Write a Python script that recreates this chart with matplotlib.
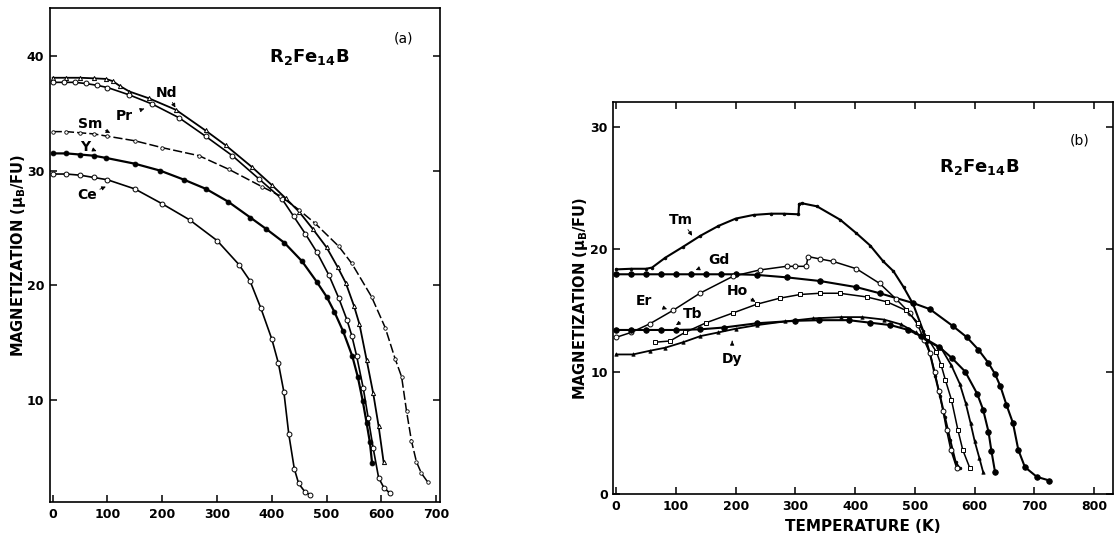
import matplotlib
matplotlib.use("Agg")
import matplotlib.pyplot as plt

# ---------------------------------------------------------------------------
# (a) light rare earths: temperature (K) vs magnetization (muB/FU)
# ---------------------------------------------------------------------------
nd_T = [0, 25, 50, 75, 97, 110, 122, 140, 176, 225, 279, 316, 364, 401, 425,
        450, 475, 500, 520, 535, 550, 560, 573, 585, 595, 604]
nd_M = [38.1, 38.1, 38.1, 38.05, 38.0, 37.8, 37.4, 36.9, 36.3, 35.3, 33.5, 32.2,
        30.3, 28.7, 27.6, 26.4, 24.9, 23.3, 21.6, 20.2, 18.2, 16.6, 13.5, 10.6,
        7.7, 4.6]

pr_T = [0, 20, 40, 60, 80, 100, 140, 182, 231, 279, 328, 376, 419, 440, 461,
        482, 504, 522, 537, 546, 555, 567, 576, 585, 595, 605, 616]
pr_M = [37.7, 37.7, 37.7, 37.6, 37.45, 37.25, 36.6, 35.8, 34.6, 33.0, 31.3,
        29.3, 27.5, 26.0, 24.5, 22.9, 20.9, 18.9, 17.0, 15.6, 13.8, 11.0, 8.4,
        5.8, 3.2, 2.3, 1.85]

sm_T = [0, 25, 50, 75, 100, 150, 200, 267, 322, 382, 415, 449, 479, 522, 546,
        582, 607, 625, 637, 646, 655, 664, 673, 685]
sm_M = [33.4, 33.4, 33.3, 33.2, 33.0, 32.6, 32.0, 31.3, 30.1, 28.6, 27.8, 26.6,
        25.4, 23.4, 21.9, 19.0, 16.3, 13.6, 12.0, 9.0, 6.4, 4.6, 3.6, 2.8]

y_T = [0, 25, 50, 75, 98, 150, 196, 240, 280, 320, 361, 390, 423, 455, 482,
       500, 514, 530, 547, 557, 566, 573, 579, 583]
y_M = [31.5, 31.5, 31.4, 31.3, 31.1, 30.6, 30.0, 29.2, 28.4, 27.3, 25.9, 24.9,
       23.7, 22.1, 20.3, 19.0, 17.7, 16.0, 13.8, 12.0, 9.9, 8.0, 6.3, 4.5]

ce_T = [0, 25, 50, 75, 100, 150, 200, 250, 300, 340, 360, 380, 400, 412, 422,
        431, 441, 449, 460, 470]
ce_M = [29.7, 29.7, 29.6, 29.4, 29.2, 28.4, 27.1, 25.7, 23.9, 21.8, 20.4, 18.0,
        15.3, 13.2, 10.7, 7.0, 4.0, 2.7, 2.0, 1.7]

# ---------------------------------------------------------------------------
# (b) heavy rare earths
# ---------------------------------------------------------------------------
tm_T = [0, 25, 50, 60, 82, 112, 141, 171, 200, 230, 259, 280, 305, 306, 311,
        336, 375, 402, 425, 447, 464, 481, 497, 514, 525, 534, 542, 550, 559,
        568, 575]
tm_M = [18.35, 18.4, 18.4, 18.5, 19.3, 20.2, 21.1, 21.9, 22.5, 22.8, 22.9, 22.9,
        22.85, 23.7, 23.75, 23.5, 22.4, 21.3, 20.3, 19.0, 18.2, 16.9, 15.5, 13.3,
        11.5, 9.6, 8.0, 6.3, 4.4, 2.6, 2.1]

gd_T = [0, 25, 50, 75, 100, 125, 150, 175, 200, 235, 285, 341, 402, 441, 497,
        525, 564, 587, 606, 623, 634, 643, 653, 664, 673, 684, 704, 725]
gd_M = [17.95, 17.95, 17.95, 17.95, 17.95, 17.95, 17.95, 17.95, 17.95, 17.9,
        17.7, 17.4, 16.9, 16.4, 15.6, 15.1, 13.7, 12.8, 11.8, 10.7, 9.8, 8.8,
        7.3, 5.8, 3.6, 2.2, 1.4, 1.1]

er_T = [0, 25, 56, 95, 140, 196, 240, 285, 300, 318, 321, 341, 363, 402, 441,
        469, 491, 505, 515, 525, 533, 540, 547, 553, 560, 570]
er_M = [12.8, 13.2, 13.9, 15.0, 16.4, 17.8, 18.3, 18.6, 18.6, 18.6, 19.4, 19.2,
        19.0, 18.4, 17.2, 15.9, 14.8, 13.8, 12.6, 11.5, 10.0, 8.4, 6.8, 5.2,
        3.6, 2.1]

ho_T = [65, 90, 115, 151, 196, 235, 274, 308, 341, 374, 419, 453, 485, 505,
        520, 536, 544, 551, 561, 572, 580, 592]
ho_M = [12.4, 12.5, 13.2, 14.0, 14.8, 15.5, 16.0, 16.3, 16.4, 16.4, 16.1, 15.7,
        15.0, 14.0, 12.8, 11.6, 10.5, 9.3, 7.7, 5.2, 3.6, 2.1]

tb_T = [0, 25, 50, 75, 100, 140, 180, 236, 300, 340, 389, 424, 459, 489, 510,
        541, 562, 584, 604, 614, 623, 628, 634]
tb_M = [13.4, 13.4, 13.4, 13.4, 13.4, 13.45, 13.6, 13.95, 14.15, 14.2, 14.2,
        14.0, 13.8, 13.4, 12.9, 12.0, 11.1, 10.0, 8.2, 6.9, 5.1, 3.5, 1.8]

dy_T = [0, 28, 56, 82, 112, 141, 171, 200, 236, 283, 330, 377, 412, 448, 477,
        501, 520, 544, 561, 575, 585, 593, 600, 608, 614]
dy_M = [11.4, 11.4, 11.7, 11.95, 12.4, 12.9, 13.2, 13.5, 13.8, 14.1, 14.35,
        14.45, 14.45, 14.25, 13.85, 13.2, 12.5, 11.9, 10.5, 9.0, 7.4, 5.8, 4.3,
        2.9, 1.8]

xticks_a = [0, 100, 200, 300, 400, 500, 600, 700]
yticks_a = [10, 20, 30, 40]
xticks_b = [0, 100, 200, 300, 400, 500, 600, 700, 800]
yticks_b = [0, 10, 20, 30]

ylabel = 'MAGNETIZATION (μ$_{\\mathbf{B}}$/FU)'
title = r'$\mathbf{R_2Fe_{14}B}$'

fig = plt.figure(figsize=(11.15, 5.39), dpi=100)


def style_axes(ax):
    for s in ax.spines.values():
        s.set_linewidth(1.2)
    ax.tick_params(direction='in', length=5, width=1.1, labelsize=9,
                   pad=4)
    for lab in ax.get_xticklabels() + ax.get_yticklabels():
        lab.set_fontweight('bold')


def label(ax, txt, xy, xytext):
    ax.annotate(txt, xy=xy, xytext=xytext, fontsize=10, fontweight='bold',
                ha='center', va='center',
                arrowprops=dict(arrowstyle='-|>', lw=0.6, color='k',
                                mutation_scale=6, shrinkA=6, shrinkB=0))


# ---------------- panel (a) ----------------
ax = fig.add_axes([0.0448, 0.0681, 0.3498, 0.9165])
ms = 3.5
ax.plot(nd_T, nd_M, '-', color='k', lw=1.3, marker='^', ms=3, mfc='white', mew=0.7)
ax.plot(pr_T, pr_M, '-', color='k', lw=1.2, marker='o', ms=ms, mfc='white', mew=0.7)
ax.plot(sm_T, sm_M, color='k', lw=1.1, ls=(0, (6, 2)), marker='o', ms=2.5, mfc='white', mew=0.6)
ax.plot(y_T, y_M, '-', color='k', lw=1.6, marker='o', ms=ms, mfc='k', mew=0.6)
ax.plot(ce_T, ce_M, '-', color='k', lw=1.2, marker='o', ms=ms, mfc='white', mew=0.7)

ax.set_xlim(-5, 707)
ax.set_ylim(1.06, 44.16)
ax.set_xticks(xticks_a)
ax.set_yticks(yticks_a)
ax.tick_params(right=True)
ax.set_ylabel(ylabel, fontsize=10.5, fontweight='bold', labelpad=-1)
style_axes(ax)

label(ax, 'Nd', (224, 35.5), (208, 36.8))
label(ax, 'Pr', (167, 35.4), (131, 34.8))
label(ax, 'Sm', (105, 33.3), (69, 34.1))
label(ax, 'Y', (80, 31.7), (59, 32.1))
label(ax, 'Ce', (97, 28.6), (63, 27.9))
ax.text(469, 39.9, title, fontsize=13, ha='center', va='center')
ax.text(641, 41.5, '(a)', fontsize=10, ha='center', va='center')

# ---------------- panel (b) ----------------
bx = fig.add_axes([0.550, 0.0835, 0.4485, 0.7267])
bx.plot(tm_T, tm_M, '-', color='k', lw=1.5, marker='o', ms=2, mfc='k', mew=0.5)
bx.plot(gd_T, gd_M, '-', color='k', lw=1.5, marker='o', ms=4, mfc='k', mew=0.6)
bx.plot(er_T, er_M, '-', color='k', lw=1.1, marker='o', ms=ms, mfc='white', mew=0.7)
bx.plot(ho_T, ho_M, '-', color='k', lw=1.1, marker='s', ms=3, mfc='white', mew=0.7)
bx.plot(tb_T, tb_M, '-', color='k', lw=1.5, marker='o', ms=4, mfc='k', mew=0.6)
bx.plot(dy_T, dy_M, '-', color='k', lw=1.3, marker='^', ms=2.5, mfc='k', mew=0.5)

bx.set_xlim(-5, 832)
bx.set_ylim(0, 32)
bx.set_xticks(xticks_b)
bx.set_yticks(yticks_b)
bx.tick_params(top=True, right=True)
bx.set_ylabel(ylabel, fontsize=10.5, fontweight='bold', labelpad=0)
bx.set_xlabel('TEMPERATURE (K)', fontsize=11, fontweight='bold', labelpad=5)
style_axes(bx)

label(bx, 'Tm', (127, 21.1), (109, 22.4))
label(bx, 'Gd', (133, 18.3), (171, 19.1))
label(bx, 'Er', (85, 15.1), (47, 15.8))
label(bx, 'Tb', (100, 13.8), (128, 14.7))
label(bx, 'Ho', (233, 15.7), (203, 16.6))
label(bx, 'Dy', (194, 12.5), (194, 11.0))
bx.text(607, 26.7, title, fontsize=13, ha='center', va='center')
bx.text(775, 28.9, '(b)', fontsize=10, ha='center', va='center')

fig.savefig('out.png', dpi=100)
